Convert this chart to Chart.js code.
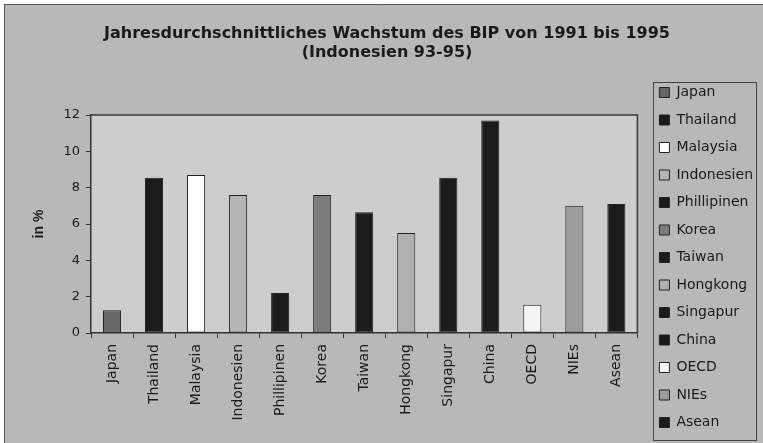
<!DOCTYPE html>
<html lang="de">
<head>
<meta charset="utf-8">
<title>Wachstum des BIP 1991-1995</title>
<script src="https://cdn.jsdelivr.net/npm/chart.js@4.4.1/dist/chart.umd.min.js"></script>
<style>
  html, body { margin: 0; padding: 0; background: #fff; }
  canvas { display: block; }
</style>
</head>
<body>
<canvas id="bip-chart" width="763" height="443"></canvas>
<script>
// Jahresdurchschnittliches Wachstum des BIP 1991-1995, in %
const laender = ['Japan', 'Thailand', 'Malaysia', 'Indonesien', 'Phillipinen', 'Korea',
                 'Taiwan', 'Hongkong', 'Singapur', 'China', 'OECD', 'NIEs', 'Asean'];
const wachstum = [1.25, 8.55, 8.7, 7.6, 2.2, 7.6, 6.65, 5.5, 8.55, 11.7, 1.55, 7.0, 7.1];
const farben = ['#666666', '#1b1b1b', '#ffffff', '#b5b5b5', '#1b1b1b', '#7c7c7c',
                '#1b1b1b', '#b0b0b0', '#1b1b1b', '#1b1b1b', '#f4f4f4', '#9c9c9c', '#1b1b1b'];
const titel = ['Jahresdurchschnittliches Wachstum des BIP von 1991 bis 1995', '(Indonesien 93-95)'];
const yMin = 0, yMax = 12, yStep = 2;

const textFarbe = '#1a1a1a';
const linienFarbe = '#333333';

// background, plot frame and the box round the legend
const rahmen = {
    id: 'rahmen',
    beforeDraw(chart) {
        const { ctx, chartArea: a, width, height } = chart;
        ctx.save();
        ctx.fillStyle = '#ffffff';
        ctx.fillRect(0, 0, width, height);
        ctx.fillStyle = '#b8b8b8';
        ctx.fillRect(4, 4, width, height);
        ctx.strokeStyle = '#555555';
        ctx.lineWidth = 1;
        ctx.beginPath();
        ctx.moveTo(4.5, height);
        ctx.lineTo(4.5, 4.5);
        ctx.lineTo(width, 4.5);
        ctx.stroke();

        ctx.fillStyle = '#cdcdcd';
        ctx.fillRect(a.left, a.top, a.right - a.left, a.bottom - a.top);
        ctx.strokeStyle = '#3a3a3a';
        ctx.lineWidth = 1.5;
        ctx.beginPath();
        ctx.moveTo(a.left, a.top);
        ctx.lineTo(a.right, a.top);
        ctx.lineTo(a.right, a.bottom);
        ctx.stroke();
        ctx.restore();
    },
    afterDraw(chart) {
        const lg = chart.legend;
        const pad = lg.options.labels.padding;
        const colH = lg.columnSizes[0].height;
        const x0 = lg.left + pad - 6.5;
        const x1 = lg.right - 7;
        const y0 = lg.bottom - colH - 3.5;
        const y1 = lg.bottom - 3;
        const ctx = chart.ctx;
        ctx.save();
        ctx.strokeStyle = '#444444';
        ctx.lineWidth = 1;
        ctx.strokeRect(Math.round(x0) + 0.5, Math.round(y0) + 0.5, Math.round(x1 - x0), Math.round(y1 - y0));
        ctx.restore();
    }
};

const ctx = document.getElementById('bip-chart').getContext('2d');
const bipChart = new Chart(ctx, {
    type: 'bar',
    data: {
        labels: laender,
        datasets: [{
            label: 'Wachstum',
            data: wachstum,
            backgroundColor: farben,
            borderColor: '#222222',
            borderWidth: 1,
            borderSkipped: false,
            barPercentage: 0.43,
            categoryPercentage: 1
        }]
    },
    options: {
        responsive: false,
        animation: false,
        devicePixelRatio: 1,
        layout: { padding: { left: 11, right: 0, top: 0, bottom: 0 } },
        plugins: {
            title: {
                display: true,
                text: titel,
                color: textFarbe,
                font: { family: 'DejaVu Sans', size: 16, weight: 'bold', lineHeight: 1.2 },
                padding: { top: 24, bottom: 52.6 }
            },
            legend: {
                position: 'right',
                align: 'end',
                labels: {
                    boxWidth: 10,
                    boxHeight: 10,
                    padding: 13.5,
                    color: textFarbe,
                    font: { family: 'DejaVu Sans', size: 14 },
                    // one entry per bar, like a series legend
                    generateLabels(chart) {
                        const ds = chart.data.datasets[0];
                        return chart.data.labels.map((name, i) => ({
                            text: name,
                            fillStyle: ds.backgroundColor[i],
                            strokeStyle: '#222222',
                            lineWidth: 1,
                            fontColor: textFarbe,
                            hidden: false,
                            index: i
                        }));
                    }
                }
            },
            tooltip: { enabled: false }
        },
        scales: {
            x: {
                grid: { drawOnChartArea: false, drawTicks: true, tickLength: 5, color: linienFarbe, offset: true },
                border: { color: linienFarbe, width: 1.5 },
                ticks: {
                    autoSkip: false,
                    maxRotation: 90,
                    minRotation: 90,
                    padding: 6,
                    color: textFarbe,
                    font: { family: 'DejaVu Sans', size: 14 }
                },
                afterFit(s) { s.height = 110; }
            },
            y: {
                min: yMin,
                max: yMax,
                ticks: {
                    stepSize: yStep,
                    padding: 6,
                    color: textFarbe,
                    font: { family: 'DejaVu Sans', size: 13 }
                },
                grid: { drawOnChartArea: false, tickLength: 5, color: linienFarbe },
                border: { color: linienFarbe, width: 1.5 },
                title: {
                    display: true,
                    text: 'in %',
                    color: textFarbe,
                    font: { family: 'Liberation Sans', size: 14, weight: 'bold' },
                    padding: { top: 20, bottom: 0 }
                },
                afterFit(s) { s.width = 80; }
            },
            // empty axis, only keeps a gap between plot and legend
            rand: {
                type: 'linear',
                position: 'right',
                grid: { display: false },
                border: { display: false },
                ticks: { display: false },
                afterFit(s) { s.width = 8.5; }
            }
        }
    },
    plugins: [rahmen]
});
</script>
</body>
</html>
